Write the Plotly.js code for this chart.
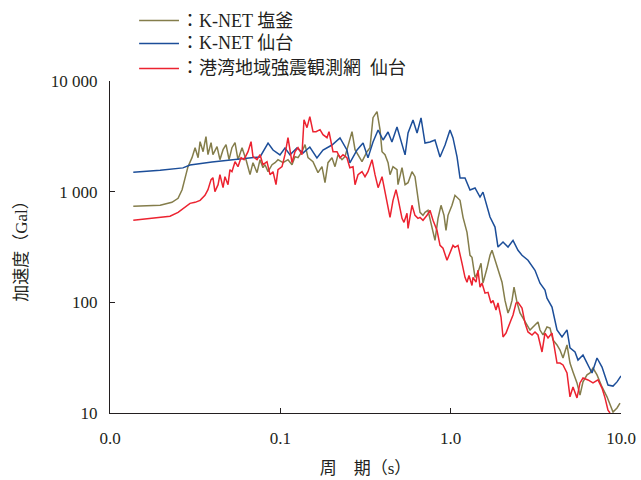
<!DOCTYPE html>
<html>
<head>
<meta charset="utf-8">
<script src="https://cdn.plot.ly/plotly-3.0.1.min.js"></script>
<style>html,body{margin:0;padding:0;background:#fff;}#chart{width:641px;height:480px;}</style>
</head>
<body>
<div id="chart"></div>
<script>
// Series names
const seriesNames = ["：K-NET 塩釜", "：K-NET 仙台", "：港湾地域強震観測網  仙台"];

// K-NET 塩釜 (olive)
const shiogamaPeriod = [0.0137,0.0197,0.0231,0.0251,0.0265,0.0276,0.0287,0.0303,0.0316,0.0329,0.0338,0.0352,0.0366,0.0376,0.0392,0.0402,0.0425,0.0442,0.0461,0.0480,0.0500,0.0520,0.0542,0.0564,0.0596,0.0629,0.0664,0.0691,0.0730,0.0760,0.0791,0.0813,0.0847,0.0894,0.0931,0.0969,0.1037,0.1109,0.1171,0.1219,0.1270,0.1340,0.1396,0.1454,0.1555,0.1664,0.1756,0.1829,0.1905,0.201,0.2094,0.2181,0.2301,0.2397,0.2497,0.2635,0.2745,0.2858,0.3016,0.3227,0.336,0.350,0.3695,0.3848,0.3954,0.4117,0.429,0.4405,0.4587,0.484,0.4907,0.518,0.540,0.562,0.5929,0.6174,0.635,0.6607,0.6880,0.707,0.7361,0.7771,0.809,0.8429,0.8777,0.9139,0.9389,0.9647,1.018,1.060,1.135,1.182,1.247,1.299,1.334,1.390,1.447,1.507,1.548,1.634,1.702,1.749,1.821,1.896,2.002,2.084,2.171,2.230,2.292,2.355,2.452,2.553,2.732,2.923,3.127,3.256,3.346,3.485,3.677,3.831,3.989,4.210,4.385,4.566,4.819,5.018,5.227,5.516,5.744,5.983,6.316,6.577,6.849,7.230,7.736,8.277,8.977,9.476,9.867];
const shiogamaAccel = [740,753,801,870,1042,1338,1682,2028,2498,2028,2830,2298,3141,2160,2772,2160,2551,1945,2396,2659,1945,2498,2772,1945,2498,1945,1424,1828,1485,1945,1647,1753,1516,1753,1828,1945,1828,1945,1753,2072,2028,2298,2659,2028,1866,1485,1682,1206,1828,2028,1682,2160,1945,2072,2659,3485,2396,2160,1866,2298,2498,4663,5284,3633,2298,2160,1828,1424,1682,1580,1157,1647,1157,1206,1516,1366,1000,650,611,650,678,466,363,574,753,611,447,611,753,927,835,586,429,266,255,168,187,225,149,203,266,295,240,195,152,104,80.1,88.9,104,137,100,80.1,66.4,56.2,62.4,66.4,56.2,50.7,59.9,58.6,45.7,41.2,37.1,31.4,41.2,28.3,23.5,18.7,14.5,19.1,22.1,23.0,25.5,22.1,17.2,14.0,10.2,11.1,12.3];

// K-NET 仙台 (blue)
const sendaiPeriod = [0.0137,0.0197,0.0268,0.0295,0.0397,0.0527,0.0664,0.0760,0.0847,0.0906,0.0995,0.1065,0.114,0.125,0.136,0.149,0.164,0.178,0.201,0.224,0.246,0.256,0.282,0.306,0.327,0.350,0.375,0.401,0.429,0.452,0.484,0.518,0.540,0.562,0.601,0.635,0.670,0.707,0.756,0.809,0.866,0.927,0.991,1.032,1.090,1.135,1.214,1.299,1.390,1.487,1.548,1.702,1.821,1.896,2.029,2.171,2.323,2.485,2.623,2.844,3.127,3.346,3.579,3.677,3.935,4.210,4.504,4.819,5.018,5.370,5.592,5.983,6.402,6.758,7.230,7.736,8.388,8.977,9.476,10.0];
const sendaiAccel = [1500,1560,1640,1740,1850,1930,2020,2060,2750,2380,2150,2480,2150,2480,2240,2530,2020,2380,2640,3060,2380,1820,2380,2750,2020,2810,3610,2930,3460,2810,3840,2750,2150,3390,4450,3390,4640,2750,2810,2930,2060,2640,3610,3060,2060,1330,1330,1036,1080,894,990,590,479,316,351,316,363,295,266,240,195,149,129,109,90.7,56.3,48.6,56.3,38.7,35.6,30.1,33.4,27.1,23.0,31.4,26.0,17.9,17.5,19.1,21.6];

// 港湾地域強震観測網 仙台 (red)
const portPeriod = [0.0137,0.0197,0.0225,0.0251,0.0276,0.0295,0.0316,0.0338,0.0361,0.0376,0.0392,0.0402,0.0413,0.0431,0.0442,0.0461,0.0473,0.0493,0.0506,0.0520,0.0542,0.0564,0.0588,0.0612,0.0646,0.0673,0.0691,0.0730,0.0760,0.0791,0.0835,0.0870,0.0906,0.0943,0.0969,0.1023,0.1065,0.1109,0.1171,0.1219,0.1270,0.1340,0.1377,0.1434,0.149,0.1555,0.1620,0.1710,0.178,0.1879,0.1931,0.2038,0.2151,0.224,0.2333,0.246,0.256,0.2671,0.2745,0.2858,0.3016,0.3141,0.327,0.3453,0.3596,0.375,0.3954,0.4230,0.4405,0.4587,0.4776,0.4907,0.518,0.5321,0.5541,0.562,0.5929,0.6174,0.6429,0.6607,0.6880,0.7262,0.756,0.7877,0.8315,0.866,0.9016,0.9517,0.991,1.032,1.060,1.104,1.166,1.214,1.247,1.281,1.334,1.352,1.409,1.447,1.487,1.528,1.591,1.657,1.725,1.773,1.846,1.896,1.975,2.029,2.113,2.171,2.261,2.323,2.419,2.485,2.623,2.732,2.844,3.003,3.127,3.256,3.438,3.579,3.729,3.935,3.989,4.210,4.385,4.566,4.819,5.018,5.227,5.516,5.744,5.983,6.402,6.849,7.328,7.736,8.056,8.388,8.619];
const portAccel = [551,580,600,650,722,784,801,835,927,1042,1284,1338,1000,1157,1424,1087,1366,1157,1580,1516,1866,1682,2028,1945,2298,2830,2072,1945,2160,1753,1866,1424,1516,1157,1580,1682,2160,3076,1828,2298,2498,2160,4473,3787,4762,3485,3485,3633,3274,3076,3485,2298,2298,2028,2160,2028,1647,1682,1157,1424,1516,1366,1516,1945,1424,1087,1366,801,586,835,1042,870,574,528,637,466,753,611,574,586,551,611,678,551,447,327,308,240,277,327,314,327,225,168,152,175,142,168,152,195,137,149,121,123,98.6,104,85.3,98.6,73.7,48.6,52.8,59.9,69.2,76.8,98.6,100,88.9,65.1,54.0,50.7,54.0,50.7,35.6,52.8,47.6,52.8,45.7,28.3,28.3,27.2,23.0,14.0,17.2,13.7,18.7,20.7,19.9,18.7,19.9,16.8,13.7,10.6,10.0];

// Tick labels
const xTickVals = [0.01, 0.1, 1, 10];
const xTickText = ["0.0", "0.1", "1.0", "10.0"];
const yTickVals = [10, 100, 1000, 10000];
const yTickText = ["10", "100", "1 000", "10 000"];

const FONT = '"Liberation Serif", "Noto Sans CJK JP", serif';
const INK = '#231f20';
const colors = ["#847d4b", "#1c4e99", "#ec2330"];

const traces = [
  {x: shiogamaPeriod, y: shiogamaAccel, name: seriesNames[0]},
  {x: sendaiPeriod, y: sendaiAccel, name: seriesNames[1]},
  {x: portPeriod, y: portAccel, name: seriesNames[2]}
].map((t, i) => Object.assign(t, {
  type: 'scatter', mode: 'lines',
  line: {color: colors[i], width: 1.5},
  showlegend: false
}));

// Custom legend (line samples + labels) placed above the plot area
const legendRowsY = [1.182, 1.113, 1.038];
const shapes = colors.map((c, i) => ({
  type: 'line', xref: 'paper', yref: 'paper',
  x0: 0.057, x1: 0.135, y0: legendRowsY[i], y1: legendRowsY[i],
  line: {color: c, width: 1.5}
}));
const annotations = seriesNames.map((n, i) => ({
  xref: 'paper', yref: 'paper', x: 0.135, y: legendRowsY[i],
  xanchor: 'left', yanchor: 'middle', showarrow: false,
  text: n, font: {family: FONT, size: 18, color: INK}
}));

const layout = {
  width: 641, height: 480,
  margin: {l: 110, r: 20, t: 81, b: 67, autoexpand: false},
  paper_bgcolor: '#fff', plot_bgcolor: '#fff',
  font: {family: FONT, size: 16, color: INK},
  showlegend: false,
  shapes: shapes,
  annotations: annotations,
  xaxis: {
    type: 'log', range: [-2, 1],
    tickvals: xTickVals, ticktext: xTickText,
    ticks: 'inside', ticklen: 5, tickcolor: INK,
    showline: true, linecolor: INK, linewidth: 1,
    showgrid: false, zeroline: false,
    ticklabelstandoff: 10,
    tickfont: {family: FONT, size: 17},
    title: {text: '周　期（s）', font: {family: FONT, size: 17}, standoff: 14}
  },
  yaxis: {
    type: 'log', range: [1, 4],
    tickvals: yTickVals, ticktext: yTickText,
    ticks: 'inside', ticklen: 5, tickcolor: INK,
    showline: true, linecolor: INK, linewidth: 1,
    showgrid: false, zeroline: false,
    ticklabelstandoff: 8,
    tickfont: {family: FONT, size: 17},
    title: {text: '加速度（Gal）', font: {family: FONT, size: 17}, standoff: 18}
  }
};

Plotly.newPlot('chart', traces, layout, {displayModeBar: false, staticPlot: true});
</script>
</body>
</html>
